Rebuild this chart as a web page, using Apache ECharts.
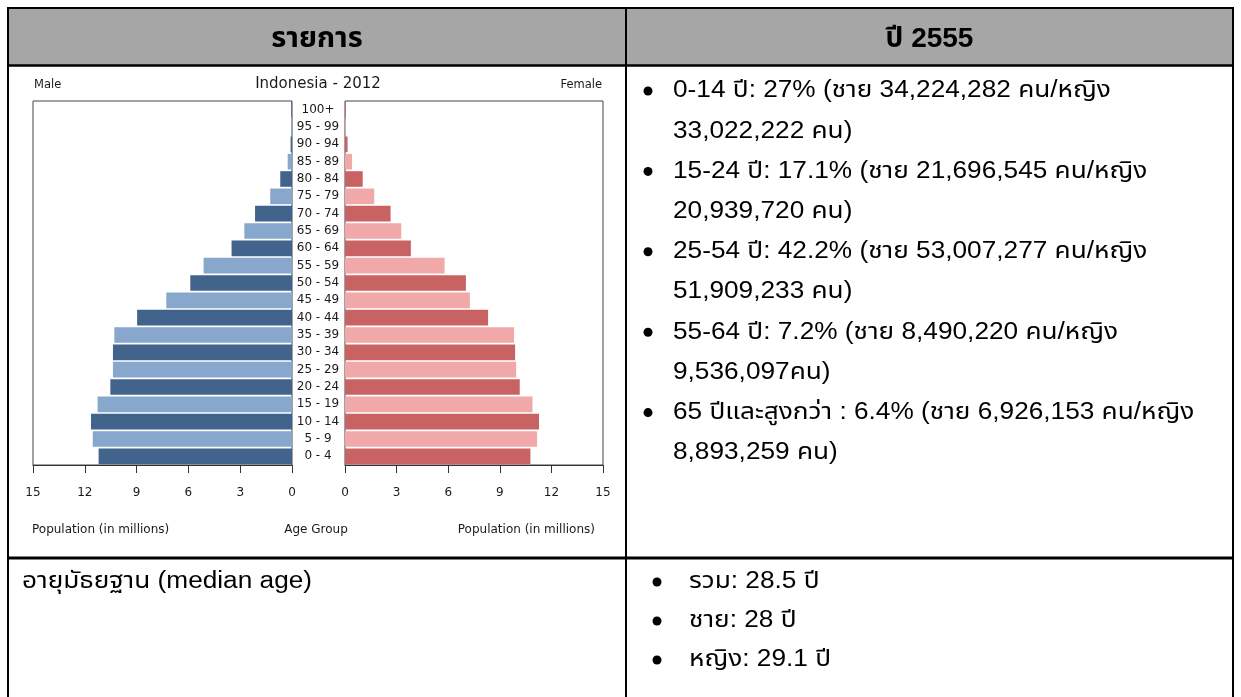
<!DOCTYPE html>
<html>
<head>
<meta charset="utf-8">
<script src="https://cdn.jsdelivr.net/npm/echarts@6/dist/echarts.min.js"></script>
<style>
html,body{margin:0;padding:0;background:#fff;}
#c{width:1241px;height:697px;}
</style>
</head>
<body>
<div id="c"></div>
<script>
// ---- data ----
const ageGroups = ['0 - 4','5 - 9','10 - 14','15 - 19','20 - 24','25 - 29','30 - 34','35 - 39','40 - 44','45 - 49','50 - 54','55 - 59','60 - 64','65 - 69','70 - 74','75 - 79','80 - 84','85 - 89','90 - 94','95 - 99','100+'];
const maleMillions = [11.2, 11.54, 11.64, 11.26, 10.52, 10.37, 10.37, 10.29, 8.97, 7.28, 5.89, 5.12, 3.5, 2.76, 2.14, 1.26, 0.68, 0.25, 0.08, 0.02, 0.04];
const femaleMillions = [10.78, 11.17, 11.28, 10.9, 10.16, 9.95, 9.89, 9.83, 8.32, 7.26, 7.03, 5.79, 3.83, 3.27, 2.65, 1.7, 1.03, 0.41, 0.15, 0.04, 0.05];
const popTicks = { min: 0, max: 15, interval: 3 };
const chartTitle = 'Indonesia - 2012';
const maleLabel = 'Male';
const femaleLabel = 'Female';
const popAxisName = 'Population (in millions)';
const ageAxisName = 'Age Group';
const headerLeft = 'รายการ';
const headerRight = 'ปี 2555';
const ageStructure = [
  ['0-14 ปี: 27% (ชาย 34,224,282 คน/หญิง', '33,022,222 คน)'],
  ['15-24 ปี: 17.1% (ชาย 21,696,545 คน/หญิง', '20,939,720 คน)'],
  ['25-54 ปี: 42.2% (ชาย 53,007,277 คน/หญิง', '51,909,233 คน)'],
  ['55-64 ปี: 7.2% (ชาย 8,490,220 คน/หญิง', '9,536,097คน)'],
  ['65 ปีและสูงกว่า : 6.4% (ชาย 6,926,153 คน/หญิง', '8,893,259 คน)']
];
const medianLabel = 'อายุมัธยฐาน (median age)';
const medianItems = ['รวม: 28.5 ปี', 'ชาย: 28 ปี', 'หญิง: 29.1 ปี'];

// ---- styling ----
const MALE_DARK = '#42638b', MALE_LIGHT = '#87a7cd';
const FEMALE_DARK = '#c96363', FEMALE_LIGHT = '#f1a8a8';
const CH_FONT = 'DejaVu Sans';
const TB_FONT = '"Liberation Sans", Arial, "Noto Sans Thai", "Tlwg Typist", sans-serif';

const chart = echarts.init(document.getElementById('c'), null, { renderer: 'canvas' });

const graphics = [];
// table
const TL = 8, TR = 1233, TT = 8, HB = 65.5, RB = 558, COL = 626, BOT = 700;
graphics.push({ type: 'rect', shape: { x: TL, y: TT, width: TR - TL, height: HB - TT }, style: { fill: '#a6a6a6' }, z: 0 });
function hline(y, x1, x2, w) { graphics.push({ type: 'line', shape: { x1: x1, y1: y, x2: x2, y2: y }, style: { stroke: '#000', lineWidth: w }, z: 5 }); }
function vline(x, y1, y2, w) { graphics.push({ type: 'line', shape: { x1: x, y1: y1, x2: x, y2: y2 }, style: { stroke: '#000', lineWidth: w }, z: 5 }); }
hline(TT, TL - 1, TR + 1, 2);
hline(HB, TL - 1, TR + 1, 2.5);
hline(RB, TL - 1, TR + 1, 3);
vline(TL, TT, BOT, 2);
vline(TR, TT, BOT, 2);
vline(COL, TT, BOT, 2);

function txt(s, x, y, opt, sx) {
  graphics.push({ type: 'text', z: 6, x: x, y: y, scaleX: sx || 1,
    style: Object.assign({ text: s, x: 0, y: 0, fill: '#000', font: '23px ' + TB_FONT, textAlign: 'left', textVerticalAlign: 'middle' }, opt || {}) });
}
txt(headerLeft, (TL + COL) / 2, 39, { font: 'bold 29px ' + TB_FONT, textAlign: 'center' });
txt(headerRight, (COL + TR) / 2, 39, { font: 'bold 28px ' + TB_FONT, textAlign: 'center' });

const BODY_SX = 1.14;
const BUL_X = 648, TXT_X = 673;
let ly = 91;
ageStructure.forEach(function (pair) {
  graphics.push({ type: 'circle', shape: { cx: BUL_X, cy: ly, r: 4.5 }, style: { fill: '#000' }, z: 6 });
  txt(pair[0], TXT_X, ly, null, BODY_SX);
  txt(pair[1], TXT_X, ly + 40.2, null, BODY_SX);
  ly += 80.4;
});
txt(medianLabel, 22, 582, null, BODY_SX);
medianItems.forEach(function (s, i) {
  const y = 582 + i * 39;
  graphics.push({ type: 'circle', shape: { cx: 657, cy: y, r: 4.5 }, style: { fill: '#000' }, z: 6 });
  txt(s, 689, y, null, BODY_SX);
});

// chart labels
function ctxt(s, x, y, size, align) {
  graphics.push({ type: 'text', z: 6, style: { text: s, x: x, y: y, fill: '#1a1a1a', font: size + 'px "' + CH_FONT + '"', textAlign: align, textVerticalAlign: 'middle' } });
}
ctxt(chartTitle, 318, 84, 15, 'center');
ctxt(maleLabel, 34, 85, 11.5, 'left');
ctxt(femaleLabel, 602, 85, 11.5, 'right');
ctxt(popAxisName, 32, 530, 12, 'left');
ctxt(ageAxisName, 316, 530, 12, 'center');
ctxt(popAxisName, 595, 530, 12, 'right');

function barColor(dark, light) {
  return function (p) { return p.dataIndex % 2 === 0 ? dark : light; };
}

const xAxisCommon = {
  type: 'value', min: popTicks.min, max: popTicks.max, interval: popTicks.interval,
  splitLine: { show: false },
  axisLine: { show: true, lineStyle: { color: '#333', width: 1 } },
  axisTick: { show: true, length: 8, lineStyle: { color: '#333' } },
  axisLabel: { margin: 22, fontFamily: CH_FONT, fontSize: 12, color: '#1a1a1a' }
};

const option = {
  animation: false,
  backgroundColor: '#fff',
  grid: [
    { left: 33, top: 101, width: 259, height: 364, show: true, borderColor: '#444', borderWidth: 1, backgroundColor: 'transparent' },
    { left: 345, top: 101, width: 258, height: 364, show: true, borderColor: '#444', borderWidth: 1, backgroundColor: 'transparent' }
  ],
  xAxis: [
    Object.assign({ gridIndex: 0, inverse: true }, xAxisCommon),
    Object.assign({ gridIndex: 1 }, xAxisCommon)
  ],
  yAxis: [
    { gridIndex: 0, type: 'category', data: ageGroups, position: 'right', axisLine: { show: false }, axisTick: { show: false }, axisLabel: { show: false } },
    { gridIndex: 1, type: 'category', data: ageGroups, position: 'left', axisLine: { show: false }, axisTick: { show: false },
      axisLabel: { show: true, align: 'center', margin: 27, fontFamily: CH_FONT, fontSize: 12, color: '#1a1a1a' } }
  ],
  series: [
    { name: 'Male', type: 'bar', xAxisIndex: 0, yAxisIndex: 0, data: maleMillions, barCategoryGap: '10%',
      itemStyle: { color: barColor(MALE_DARK, MALE_LIGHT) } },
    { name: 'Female', type: 'bar', xAxisIndex: 1, yAxisIndex: 1, data: femaleMillions, barCategoryGap: '10%',
      itemStyle: { color: barColor(FEMALE_DARK, FEMALE_LIGHT) } }
  ],
  graphic: graphics
};
chart.setOption(option);
</script>
</body>
</html>
